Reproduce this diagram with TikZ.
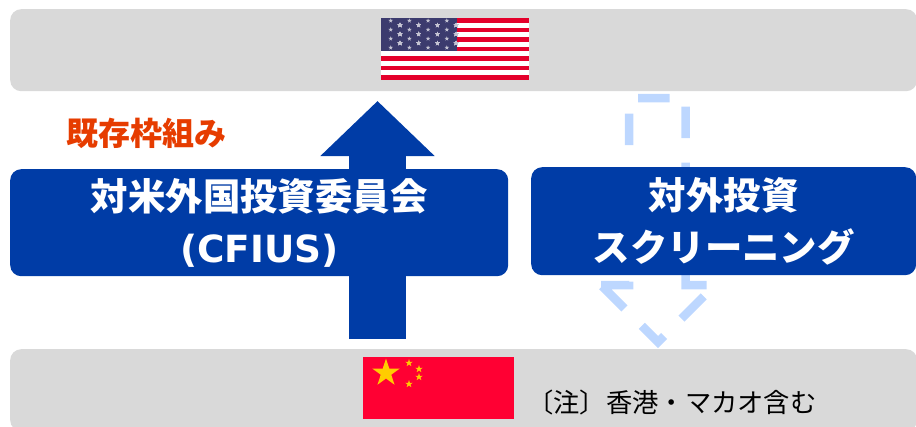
\documentclass[tikz,border=0pt]{standalone}
\usepackage{fontspec}
\setmainfont{Noto Sans CJK JP}
\newfontfamily\latinbold[BoldFont={DejaVu Sans Bold}]{DejaVu Sans}
\usetikzlibrary{arrows.meta}
\definecolor{bandgray}{HTML}{D9D9D9}
\definecolor{boxblue}{HTML}{003CA6}
\definecolor{dashblue}{HTML}{BDD7FF}
\definecolor{labelred}{HTML}{E63C00}
\definecolor{usred}{HTML}{E4002B}
\definecolor{usblue}{HTML}{3C3B6E}
\definecolor{cnred}{HTML}{FF0033}
\definecolor{cnyellow}{HTML}{FFCC00}
\newcommand{\flagstar}[4]{\fill[#4, shift={(#1,#2)}] (-90:#3) -- (54:#3) -- (198:#3) -- (-18:#3) -- (126:#3) -- cycle;}

\begin{document}
\begin{tikzpicture}[x=1pt, y=-1pt,
		band/.style = {fill=bandgray, rounded corners=11pt, minimum height=82pt, anchor=north west, inner sep=0pt},
		bluebox/.style = {fill=boxblue, rounded corners=11pt, minimum height=107pt, anchor=north west, inner sep=0pt, text=white, align=center, font=\fontsize{37.4}{52}\selectfont\bfseries}]
	\useasboundingbox (0,0) rectangle (916,426);
	\clip (0,0) rectangle (916,426);
	\node[band, minimum width=907pt] (usband) at (10,9) {};
	\node[band, minimum width=907pt] (cnband) at (10,349) {};
	% flags
	\node[fill=white, minimum width=148pt, minimum height=62pt, inner sep=0pt, anchor=north west] (usflag) at (381,18) {};
	\foreach \i in {0,2,...,12}
		\fill[usred] (381,18+\i*4.77) rectangle (529,18+\i*4.77+4.5);
	\fill[usblue] (381,18) rectangle (457,51);
	\foreach \r in {0,2,4,6}
		\foreach \c in {0,...,3}
			\flagstar{390.7+\c*18.7}{20.7+\r*4.5}{2.4}{white!70!usblue}
	\foreach \r in {1,3,5}
		\foreach \c in {0,...,3}
			\flagstar{400+\c*18.7}{20.7+\r*4.5}{2.4}{white!70!usblue}
	\node[fill=cnred, minimum width=151pt, minimum height=62pt, inner sep=0pt, anchor=north west] (cnflag) at (363,357) {};
	\flagstar{386}{373}{14.5}{cnyellow}
	\flagstar{409}{363}{4}{cnyellow}
	\flagstar{419}{369}{4}{cnyellow}
	\flagstar{419}{377}{4}{cnyellow}
	\flagstar{409}{384}{4}{cnyellow}
	% arrows
	\coordinate (cfiusstart) at (377.5,339);
	\coordinate (cfiusend) at (377.5,101);
	\draw[boxblue, line width=57pt, -{Triangle[width=111pt, length=55pt]}] (cfiusstart) -- (cfiusend);
	\draw[dashblue, line width=8.5pt, dash pattern=on 31.5pt off 24.5pt, miter limit=4]
		(601,285) -- (629,285) -- (629,98) -- (685.5,98) -- (685.5,285) -- (715,285) -- (658,342) -- cycle;
	% boxes
	\node[bluebox, minimum width=498pt] (cfius) at (10,169) {対米外国投資委員会\\{\latinbold (CFIUS)}};
	\node[bluebox, minimum width=385pt, minimum height=108pt] (outbound) at (531,167) {対外投資\\スクリーニング};
	% labels
	\node[text=labelred, font=\fontsize{32}{36}\selectfont\bfseries, anchor=west, inner sep=0pt] (existing) at (66,133) {既存枠組み};
	\node[font=\fontsize{26.3}{30}\selectfont, anchor=west, inner sep=0pt] (note) at (527,402) {〔注〕香港・マカオ含む};
\end{tikzpicture}
\end{document}
